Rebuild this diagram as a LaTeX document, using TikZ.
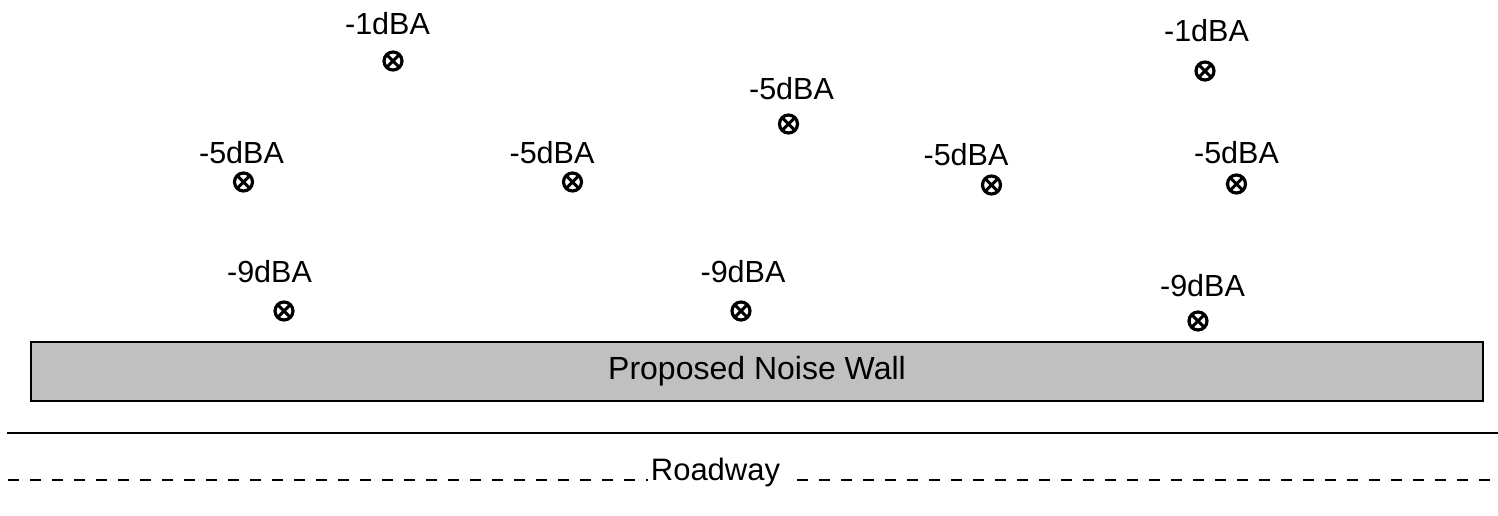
\documentclass[tikz,border=0pt]{standalone}
\usepackage{fontspec}
\setmainfont{Liberation Sans}
\definecolor{wallgray}{RGB}{192,192,192}
\begin{document}
\begin{tikzpicture}[x=1pt,y=-1pt,
  level/.style={anchor=base,inner sep=0pt,font=\fontsize{30.5}{36}\selectfont},
  receiver/.style={circle,draw,line width=3.2pt,minimum size=18pt,inner sep=0pt,
    path picture={\draw[line width=3pt]
      (path picture bounding box.north west) -- (path picture bounding box.south east)
      (path picture bounding box.north east) -- (path picture bounding box.south west);}},
  wall/.style={draw,line width=1.6pt,fill=wallgray,inner sep=0pt,
    font=\fontsize{32}{38}\selectfont},
  road/.style={anchor=base,inner sep=0pt,font=\fontsize{31}{37}\selectfont},
  edge/.style={line width=2pt},
  lane/.style={line width=2pt,dash pattern=on 11pt off 11pt}]
\useasboundingbox (0,0) rectangle (1498,516);

% attenuation labels and receivers
\node[level] (t1) at (387.5,35) {-1dBA};   \node[receiver] (r1) at (393,61) {};
\node[level] (t2) at (1206.5,42) {-1dBA};  \node[receiver] (r2) at (1205,71) {};
\node[level] (t3) at (791.5,100) {-5dBA};  \node[receiver] (r3) at (788.5,124) {};
\node[level] (t4) at (241.5,163) {-5dBA};  \node[receiver] (r4) at (243.5,182) {};
\node[level] (t5) at (552,163) {-5dBA};    \node[receiver] (r5) at (572.5,182) {};
\node[level] (t6) at (966,165) {-5dBA};    \node[receiver] (r6) at (991.5,185) {};
\node[level] (t7) at (1236.5,163) {-5dBA}; \node[receiver] (r7) at (1236.5,184) {};
\node[level] (t8) at (269.5,282) {-9dBA};  \node[receiver] (r8) at (284,311) {};
\node[level] (t9) at (743,282) {-9dBA};    \node[receiver] (r9) at (741,311) {};
\node[level] (t10) at (1202.5,296) {-9dBA};\node[receiver] (r10) at (1198,321) {};

% noise wall
\node[wall,minimum width=1452pt,minimum height=59pt] (w) at (757,371.5) {Proposed Noise Wall};

% road edge
\coordinate (e1) at (7,433);
\coordinate (e2) at (1498,433);
\draw[edge] (e1) -- (e2);

% centre line with label
\node[road] (rd) at (715.5,480) {Roadway};
\coordinate (c1) at (648,480);
\coordinate (c2) at (7,480);
\coordinate (c3) at (797,480);
\coordinate (c4) at (1492,480);
\draw[lane,dash phase=9pt] (c1) -- (c2);
\draw[lane] (c3) -- (c4);
\end{tikzpicture}
\end{document}
